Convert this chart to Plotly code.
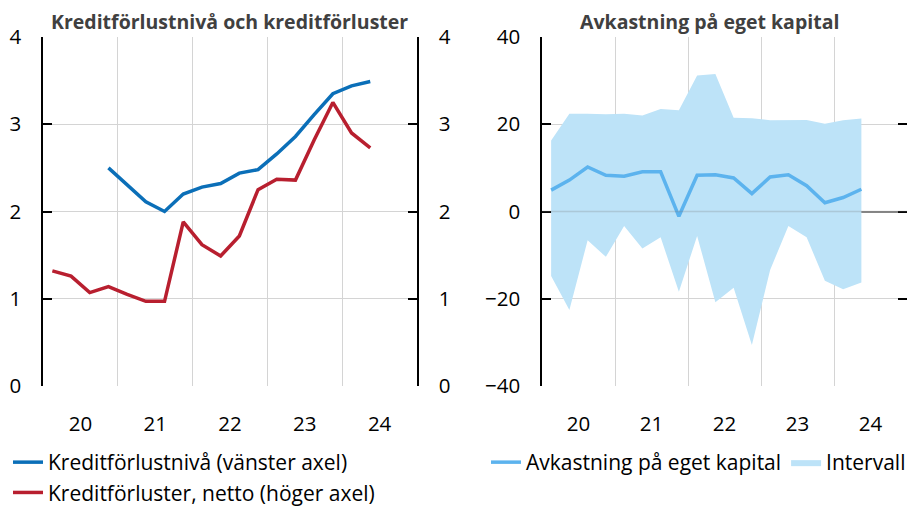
import plotly.graph_objects as go

quarters = ["2020K1", "2020K2", "2020K3", "2020K4", "2021K1", "2021K2", "2021K3", "2021K4",
            "2022K1", "2022K2", "2022K3", "2022K4", "2023K1", "2023K2", "2023K3", "2023K4",
            "2024K1", "2024K2"]
year_labels = ["20", "21", "22", "23", "24"]

kreditforlustniva = [None, None, None, 2.50, 2.31, 2.11, 2.00, 2.20, 2.28, 2.32, 2.44, 2.48,
                     2.66, 2.86, 3.11, 3.35, 3.44, 3.49]
kreditforluster_netto = [1.32, 1.26, 1.07, 1.14, 1.05, 0.97, 0.97, 1.88, 1.62, 1.49, 1.72, 2.25,
                         2.37, 2.36, 2.82, 3.25, 2.90, 2.73]

roe = [4.9, 7.2, 10.2, 8.3, 8.1, 9.1, 9.1, -1.1, 8.3, 8.4, 7.7, 4.1, 7.9, 8.4, 5.9, 2.0, 3.2, 5.1]
roe_upper = [16.3, 22.4, 22.4, 22.3, 22.4, 22.0, 23.5, 23.2, 31.2, 31.5, 21.5, 21.4, 20.9, 20.9,
             21.0, 20.1, 20.9, 21.3]
roe_lower = [-14.8, -22.6, -6.6, -10.4, -3.3, -8.5, -5.9, -18.4, -5.6, -20.8, -17.5, -30.6, -13.4,
             -3.3, -5.9, -15.9, -17.8, -16.3]

# quarter index positions (derived from quarter labels)
def qpos(q):
    return (int(q[:4]) - 2020) * 4 + int(q[-1]) - 1

xq = [qpos(q) for q in quarters]
year_centers = [4 * i + 1.5 for i in range(len(year_labels))]

BLUE = "#0b6fb8"
RED = "#b81f2f"
ROE = "#5cb3ee"
BAND = "#bde3f8"
FONT = "Open Sans"
W, H = 907, 513

fig = go.Figure()
fig.add_trace(go.Scatter(x=xq, y=kreditforlustniva, mode="lines", name="Kreditförlustnivå (vänster axel)",
                         line=dict(color=BLUE, width=3.5), xaxis="x", yaxis="y", legend="legend",
                         legendgroup="a"))
fig.add_trace(go.Scatter(x=xq, y=kreditforluster_netto, mode="lines", name="Kreditförluster, netto (höger axel)",
                         line=dict(color=RED, width=3.5), xaxis="x", yaxis="y2", legend="legend",
                         legendgroup="b"))
fig.add_trace(go.Scatter(x=xq, y=roe_lower, mode="lines", line=dict(width=0, color=BAND), showlegend=False,
                         hoverinfo="skip", xaxis="x2", yaxis="y3"))
fig.add_trace(go.Scatter(x=xq, y=roe_upper, mode="lines", line=dict(width=0, color=BAND), fill="tonexty",
                         fillcolor=BAND, name="Intervall", xaxis="x2", yaxis="y3", legend="legend2",
                         legendrank=2))
fig.add_trace(go.Scatter(x=xq, y=roe, mode="lines", name="Avkastning på eget kapital",
                         line=dict(color=ROE, width=3.5), xaxis="x2", yaxis="y3", legend="legend2",
                         legendrank=1))

yb, yt = (H - 386) / H, (H - 37) / H
tickfont = dict(family=FONT, size=20.5, color="#000")
common_x = dict(range=[-0.5, 19.5], tickmode="array", tickvals=year_centers, ticktext=year_labels,
                showgrid=False, zeroline=False, showline=False, ticks="", tickfont=tickfont,
                ticklabelstandoff=23, automargin=False,
                minor=dict(tick0=-0.5, dtick=4, showgrid=True, gridcolor="#d4d4d4", gridwidth=1))
common_y = dict(ticks="inside", ticklen=9, tickcolor="#000", tickwidth=1.5, showline=True, linecolor="#000",
                linewidth=1.5, tickfont=tickfont, ticklabelstandoff=16, automargin=False)

legfont = dict(family=FONT, size=21, color="#000")
fig.update_layout(
    template="none",
    width=W, height=H, margin=dict(l=0, r=0, t=0, b=0, autoexpand=False),
    paper_bgcolor="white", plot_bgcolor="white", font=dict(family=FONT, size=20, color="#000"),
    xaxis=dict(domain=[43 / W, 417 / W], anchor="y", **common_x),
    xaxis2=dict(domain=[542 / W, 1.0], anchor="y3", **common_x),
    yaxis=dict(domain=[yb, yt], range=[0, 4], tickvals=[0, 1, 2, 3, 4], showgrid=True, gridcolor="#d4d4d4",
               zeroline=False, anchor="x", **common_y),
    yaxis2=dict(range=[0, 4], tickvals=[0, 1, 2, 3, 4], overlaying="y", side="right", showgrid=False,
                zeroline=False, anchor="x", **common_y),
    yaxis3=dict(domain=[yb, yt], range=[-40, 40], tickvals=[-40, -20, 0, 20, 40], showgrid=True,
                gridcolor="#d4d4d4", zeroline=True, zerolinecolor="#888", zerolinewidth=1.5, anchor="x2",
                mirror="ticks", **common_y),
    legend=dict(x=8 / W, y=(H - 442) / H, xanchor="left", yanchor="top", orientation="v",
                font=legfont, bgcolor="rgba(0,0,0,0)", tracegroupgap=19,
                itemwidth=30, traceorder="normal"),
    legend2=dict(x=486 / W, y=(H - 442) / H, xanchor="left", yanchor="top", orientation="h",
                 font=legfont, bgcolor="rgba(0,0,0,0)", itemwidth=30,
                 traceorder="normal"),
    showlegend=True,
)

fig.add_shape(type="line", xref="x2 domain", yref="y3", x0=0, x1=1, y0=0, y1=0, layer="above",
              line=dict(color="rgba(120,120,120,0.25)", width=1.5))

fig.add_annotation(text="<b>Kreditförlustnivå och kreditförluster</b>", xref="paper", yref="paper",
                   x=230 / W, y=(H - 21) / H, showarrow=False, xanchor="center", yanchor="middle",
                   font=dict(family=FONT, size=19.5, color="#404040"))
fig.add_annotation(text="<b>Avkastning på eget kapital</b>", xref="paper", yref="paper",
                   x=709 / W, y=(H - 21) / H, showarrow=False, xanchor="center", yanchor="middle",
                   font=dict(family=FONT, size=19.5, color="#404040"))

fig.write_html("out.html", config={"displayModeBar": False},
               post_script="document.body.style.margin='0px';")
